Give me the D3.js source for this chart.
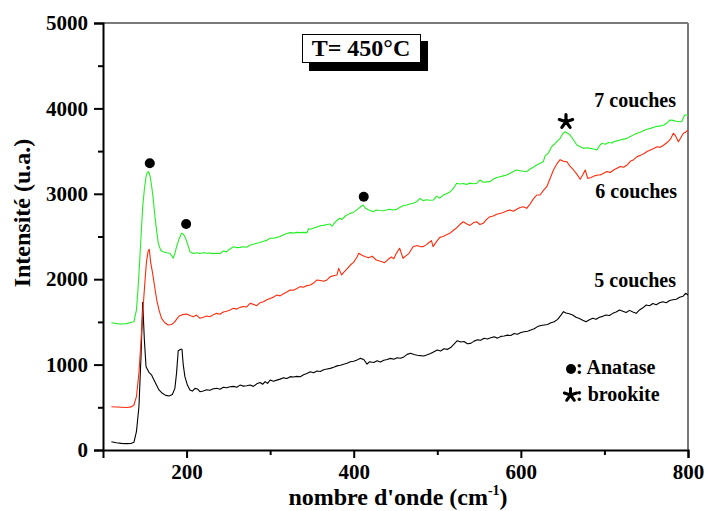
<!DOCTYPE html>
<html>
<head>
<meta charset="utf-8">
<script src="https://cdn.jsdelivr.net/npm/d3@7"></script>
<style>
  html, body { margin: 0; padding: 0; background: #fff; }
  svg { display: block; }
  text { font-family: "Liberation Serif", "Times New Roman", serif; font-weight: bold; fill: #000; }
</style>
</head>
<body>
<svg id="chart" width="706" height="511"></svg>
<script>
// ---------- data ----------
const xMajorTicks = [200, 400, 600, 800];
const xMinorTicks = [300, 500, 700];
const yMajorTicks = [0, 1000, 2000, 3000, 4000, 5000];
const yMinorTicks = [500, 1500, 2500, 3500, 4500];

const seriesNames = ["5 couches", "6 couches", "7 couches"];
const seriesColors = ["#000000", "#ff2a0a", "#22ee22"];

// 5 couches (black)
const wn5 = [110,116,122,128,134,137,140,143,145.5,147.5,149.5,151.5,155,158,161,164,167,171,175,179,183,186,188,190,193,194.5,196,198,201,204,207,210,213,216,220,224,228,232,236,240,244,248,252,256,260,264,268,272,276,280,284,288,291,294,297,300,304,308,312,316,320,324,328,332,336,340,344,348,352,356,360,364,368,372,376,380,384,388,392,396,400,404,408,412,416,419,424,428,432,436,440,444,448,452,456,460,464,468,472,476,480,484,488,492,496,500,504,508,512,516,520,524,528,532,536,540,544,548,552,556,560,564,568,572,576,580,584,588,592,596,600,604,608,612,616,620,624,628,632,636,640,644,648,651,654,658,662,666,670,674,678,682,686,690,694,698,702,706,710,714,718,722,726,730,734,738,742,746,750,754,758,762,766,770,774,778,782,786,790,794,797,800];
const int5 = [97,85,78,75,78,90,214,507,1100,1729,1288,975,910,880,820,760,703,664,640,632,650,722,900,1163,1180,1179,1000,859,760,703,690,722,715,683,690,705,700,718,722,712,735,728,741,745,735,760,748,752,761,745,775,790,770,800,780,820,805,818,830,845,838,859,855,862,858,880,895,917,905,925,920,940,948,956,970,985,992,1005,1015,1034,1040,1055,1073,1060,1005,1034,1025,1045,1030,1050,1060,1073,1062,1080,1075,1090,1120,1132,1118,1110,1105,1101,1115,1130,1150,1171,1160,1185,1178,1200,1240,1280,1265,1270,1245,1249,1275,1290,1285,1308,1300,1315,1325,1310,1330,1335,1345,1340,1365,1355,1375,1385,1390,1405,1420,1445,1458,1464,1470,1490,1502,1530,1580,1620,1605,1595,1581,1555,1540,1520,1502,1525,1542,1530,1555,1565,1581,1575,1600,1615,1639,1625,1610,1635,1615,1600,1640,1665,1698,1690,1715,1700,1725,1737,1725,1750,1760,1765,1788,1800,1835,1815];

// 6 couches (red)
const wn6 = [110,116,122,128,134,137,140,143,145,147.5,150,152,154,155.4,157,159.4,162,164.3,167,170,174,178,182,185,188,191,195,200,204,208,212,216,220,224,228,232,236,240,244,248,252,256,260,264,268,272,276,280,284,288,292,296,300,304,308,312,316,320,324,328,332,336,340,344,348,352,356,360,364,368,372,376,380,382,385.6,388,392,396,400,404,406,410,414,418,422,427,432,437,441,445,448,451,455,459,462,466,471,476,480,483,487,490,493,495,499,503,507,511,515,519,523,527,531,535,539,543,547,551,555,559,563,567,571,575,579,583,587,591,595,599,603,607,611,615,619,623,627,631,635,639,643,647,651,655,659,663,667,671,674,677,680,684,688,692,695,699,703,707,711,715,719,723,727,731,735,739,743,747,751,755,759,763,767,771,775,779,782.5,785,788.5,791,794.5,797,800];
const int6 = [507,503,500,498,505,527,624,900,1200,1600,1950,2200,2330,2350,2200,2069,1900,1756,1640,1542,1490,1464,1470,1491,1530,1569,1585,1593,1575,1561,1580,1542,1555,1570,1560,1585,1600,1590,1615,1625,1640,1659,1650,1670,1680,1675,1718,1705,1690,1725,1737,1760,1775,1790,1815,1805,1830,1850,1874,1870,1890,1913,1905,1925,1932,1955,1991,1985,1975,1991,2030,2040,2050,2127,2049,2080,2120,2166,2200,2260,2303,2280,2264,2250,2270,2225,2210,2193,2230,2260,2240,2303,2362,2245,2270,2300,2381,2395,2380,2381,2405,2430,2451,2381,2440,2490,2500,2520,2537,2570,2600,2640,2673,2650,2630,2660,2673,2640,2654,2700,2732,2740,2760,2770,2780,2800,2810,2795,2820,2840,2849,2830,2880,2940,2986,2986,3040,3083,3180,3279,3350,3400,3380,3376,3320,3279,3230,3170,3220,3279,3181,3190,3210,3220,3220,3240,3260,3250,3279,3300,3320,3310,3337,3380,3400,3435,3450,3470,3495,3513,3530,3550,3545,3571,3600,3640,3708,3680,3610,3650,3708,3720,3747];

// 7 couches (green)
const wn7 = [110,116,122,128,134,137,140,142,143.5,145.5,147.5,149.5,151.5,153,154.7,156.5,158.3,160,162.2,164,166.2,169,172,176,180,182,184,186,188,191,194,196,198,201,204,208,212,216,220,224,228,232,236,240,244,248,250,253,256,260,264,268,272,276,280,284,288,292,296,300,304,308,312,316,320,324,328,332,336,340,344,346,348,352,356,360,364,368,371.6,374,377,380,383.6,386,390,395.6,399,402,406,409.6,411.5,414,418,423.5,427,431,435.5,439,443,447,451.4,455,459,463.4,467,471,475.4,479.4,483,487,491,495.3,499,503,507.3,511,515,519,523.2,527,531,535,539,543,547.2,551.1,555,559,563.1,567,571,575,579,583,587,591,595,599,603,607,611,615,619,623,626.9,629,633,637,640,643,647,650,653,656,659,663,667,671,675,679,683,687,691,694,697,701,705,709,711,715,719,723,727,731,735,739,743,747,751,755,759,763,767,771,775,778.5,782,786,789,792.5,796,800];
const int7 = [1491,1480,1475,1480,1495,1502,1639,1900,2146,2500,2849,3050,3200,3250,3259,3200,3083,2950,2732,2580,2420,2340,2322,2310,2303,2280,2245,2300,2381,2470,2537,2530,2498,2420,2322,2300,2310,2300,2310,2303,2305,2300,2303,2300,2330,2320,2342,2360,2381,2370,2373,2380,2375,2400,2410,2420,2430,2445,2455,2479,2480,2490,2500,2520,2535,2545,2540,2548,2545,2548,2545,2590,2584,2600,2610,2625,2630,2640,2646,2620,2660,2690,2713,2700,2740,2771,2780,2800,2830,2857,2869,2830,2810,2791,2810,2805,2802,2810,2820,2810,2818,2840,2860,2869,2880,2890,2908,2947,2920,2930,2925,2927,2970,2950,2986,3000,3020,3060,3123,3115,3120,3110,3125,3118,3123,3162,3135,3140,3142,3170,3190,3200,3210,3220,3240,3260,3279,3270,3265,3259,3290,3310,3337,3357,3376,3443,3480,3552,3580,3610,3650,3700,3727,3710,3689,3630,3571,3550,3532,3540,3532,3525,3513,3560,3591,3580,3600,3595,3610,3620,3630,3640,3649,3670,3690,3708,3720,3740,3755,3766,3780,3790,3795,3805,3830,3864,3860,3850,3845,3844,3922,3922];

// peak markers: anatase (dots) and brookite (star)
const anataseX = [156, 199.5, 412];
const anataseY = [3357, 2646, 2966];
const brookiteX = [654];
const brookiteY = [3844];

// ---------- drawing ----------
const svg = d3.select("#chart");
const x = d3.scaleLinear().domain([100, 800]).range([103, 688]);
const y = d3.scaleLinear().domain([0, 5000]).range([450, 23]);

// five-armed bold asterisk drawn as a path
function asterisk(cx, cy, r) {
  const p = d3.path();
  for (let k = 0; k < 5; k++) {
    const a = -Math.PI / 2 + k * 2 * Math.PI / 5;
    p.moveTo(cx, cy);
    p.lineTo(cx + r * Math.cos(a), cy + r * Math.sin(a));
  }
  return p.toString();
}

// frame (top and right, gray)
svg.append("line").attr("x1", x(100)).attr("x2", x(800)).attr("y1", y(5000)).attr("y2", y(5000))
  .attr("stroke", "#7a7a7a").attr("stroke-width", 2);
svg.append("line").attr("x1", x(800)).attr("x2", x(800)).attr("y1", y(5000)).attr("y2", y(0))
  .attr("stroke", "#7a7a7a").attr("stroke-width", 2);

// curves
const series = [[wn5, int5], [wn6, int6], [wn7, int7]];
const line = d3.line().x(d => x(d[0])).y(d => y(d[1]));
series.forEach((s, i) => {
  const pts = s[0].map((v, j) => [v, s[1][j]]);
  svg.append("path").datum(pts).attr("d", line)
    .attr("fill", "none").attr("stroke", seriesColors[i]).attr("stroke-width", 1.1)
    .attr("stroke-linejoin", "round");
});

// axes
const fontSize = 21;
svg.append("g").attr("transform", `translate(${x(100)},0)`)
  .call(d3.axisLeft(y).tickValues(yMajorTicks).tickSize(9).tickPadding(6).tickFormat(d3.format("d")));
svg.append("g").attr("transform", `translate(${x(100)},0)`)
  .call(d3.axisLeft(y).tickValues(yMinorTicks).tickSize(5).tickFormat(""))
  .call(g => g.select(".domain").remove());
svg.append("g").attr("transform", `translate(0,${y(0)})`)
  .call(d3.axisBottom(x).tickValues(xMajorTicks).tickSize(8).tickPadding(6).tickFormat(d3.format("d")));
svg.append("g").attr("transform", `translate(0,${y(0)})`)
  .call(d3.axisBottom(x).tickValues(xMinorTicks).tickSize(5).tickFormat(""))
  .call(g => g.select(".domain").remove());

svg.selectAll(".domain").attr("stroke", "#000").attr("stroke-width", 2);
svg.selectAll(".tick line").attr("stroke", "#000").attr("stroke-width", 2);
svg.selectAll(".tick text").attr("font-size", fontSize)
  .attr("font-family", "'Liberation Serif', 'Times New Roman', serif").attr("font-weight", "bold");

// axis titles
svg.append("text").attr("transform", "translate(30,213) rotate(-90)")
  .attr("text-anchor", "middle").attr("font-size", 24).text("Intensité (u.a.)");
const xt = svg.append("text").attr("x", 398).attr("y", 505).attr("text-anchor", "middle").attr("font-size", 24);
xt.append("tspan").text("nombre d'onde (cm");
xt.append("tspan").attr("font-size", 14).attr("dy", -10).text("-1");
xt.append("tspan").attr("dy", 10).text(")");

// title box with shadow
svg.append("rect").attr("x", 309).attr("y", 41).attr("width", 119).attr("height", 30).attr("fill", "#000");
svg.append("rect").attr("x", 302.5).attr("y", 34.5).attr("width", 118).attr("height", 28)
  .attr("fill", "#fff").attr("stroke", "#000").attr("stroke-width", 1);
svg.append("text").attr("x", 361).attr("y", 56).attr("text-anchor", "middle").attr("font-size", 24).text("T= 450°C");

// series labels
const labelPos = [[676, 287], [677, 198], [676, 107]];
seriesNames.forEach((n, i) => {
  svg.append("text").attr("x", labelPos[i][0]).attr("y", labelPos[i][1])
    .attr("text-anchor", "end").attr("font-size", 20).text(n);
});

// anatase dots
svg.selectAll("circle.anatase").data(anataseX.map((v, i) => [v, anataseY[i]])).enter()
  .append("circle").attr("class", "anatase")
  .attr("cx", d => x(d[0])).attr("cy", d => y(d[1])).attr("r", 5).attr("fill", "#000");
// brookite asterisk
svg.selectAll("path.brookite").data(brookiteX.map((v, i) => [v, brookiteY[i]])).enter()
  .append("path").attr("class", "brookite")
  .attr("d", d => asterisk(x(d[0]), y(d[1]), 7))
  .attr("stroke", "#000").attr("stroke-width", 3.2).attr("stroke-linecap", "round").attr("fill", "none");

// legend
svg.append("circle").attr("cx", 571).attr("cy", 369).attr("r", 5).attr("fill", "#000");
svg.append("text").attr("x", 576).attr("y", 374).attr("font-size", 20).text(": Anatase");
svg.append("path").attr("d", asterisk(570.5, 395, 6.5))
  .attr("stroke", "#000").attr("stroke-width", 3).attr("stroke-linecap", "round").attr("fill", "none");
svg.append("text").attr("x", 576).attr("y", 401).attr("font-size", 20).text(": brookite");
</script>
</body>
</html>
